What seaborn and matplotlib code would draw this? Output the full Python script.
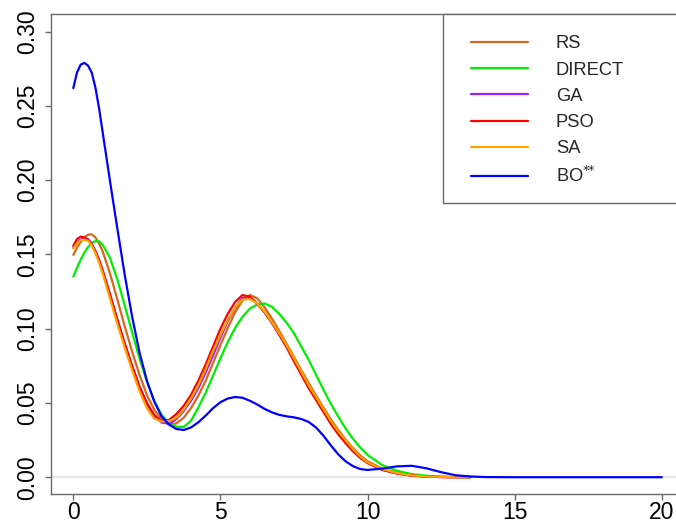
import matplotlib
matplotlib.use("Agg")
import matplotlib.pyplot as plt
import pandas as pd
import seaborn as sns
from matplotlib.patches import Rectangle

# ---------------- data ----------------
methods = ["RS", "DIRECT", "GA", "PSO", "SA", "BO"]
legend_labels = ["RS", "DIRECT", "GA", "PSO", "SA", r"BO$^{*\!\!*}$"]
colors = ["#D2691E", "#00EE00", "#A020F0", "#FF0000", "#FFA500", "#0000FF"]

x_main = [0, 0.125, 0.25, 0.375, 0.5, 0.625, 0.75, 0.875, 1.0, 1.25, 1.5, 1.75, 2.0, 2.25, 2.5, 2.75,
          3.0, 3.25, 3.5, 3.75, 4.0, 4.25, 4.5, 4.75, 5.0, 5.25, 5.5, 5.75,
          6.0, 6.25, 6.5, 6.75, 7.0, 7.25, 7.5, 7.75, 8.0, 8.25, 8.5, 8.75,
          9.0, 9.25, 9.5, 9.75, 10.0, 10.5, 11.0, 11.5, 12.0, 12.5, 13.0, 13.5]
x_bo = x_main + [14.0, 15.0, 20.0]

rs = [0.1497, 0.1545, 0.1585, 0.1615, 0.1633, 0.1636, 0.1615, 0.1575, 0.152, 0.137, 0.1195, 0.1015,
      0.0845, 0.069, 0.0555, 0.0455,
      0.039, 0.0357, 0.0362, 0.040, 0.0465, 0.055, 0.065, 0.077, 0.089, 0.1005, 0.111, 0.119,
      0.1227, 0.1205, 0.1145, 0.1068, 0.0985, 0.0898, 0.081, 0.072, 0.0635, 0.055, 0.047, 0.039,
      0.032, 0.0255, 0.0198, 0.0148, 0.0108, 0.0057, 0.0029, 0.0013, 0.0005, 0.0002, 0.0001, 0.0]
direct = [0.135, 0.141, 0.1465, 0.1512, 0.155, 0.1575, 0.159, 0.1588, 0.1565, 0.1475, 0.133, 0.1155,
          0.0975, 0.080, 0.0645, 0.0515,
          0.042, 0.0365, 0.034, 0.0338, 0.038, 0.047, 0.057, 0.0685, 0.080, 0.091, 0.1005, 0.108,
          0.1135, 0.1163, 0.117, 0.1148, 0.110, 0.104, 0.097, 0.088, 0.079, 0.069, 0.059, 0.0495,
          0.041, 0.033, 0.026, 0.020, 0.015, 0.0082, 0.0043, 0.0021, 0.001, 0.0004, 0.0001, 0.0]
ga = [0.155, 0.158, 0.160, 0.1608, 0.1603, 0.1575, 0.1525, 0.1465, 0.139, 0.1225, 0.1055, 0.0895,
      0.0745, 0.061, 0.0495, 0.041,
      0.0368, 0.036, 0.039, 0.0445, 0.0515, 0.060, 0.0705, 0.082, 0.094, 0.105, 0.114, 0.1208,
      0.1212, 0.1168, 0.111, 0.104, 0.096, 0.088, 0.0795, 0.0705, 0.0615, 0.053, 0.045, 0.0375,
      0.0305, 0.024, 0.0185, 0.0135, 0.0098, 0.005, 0.0025, 0.0011, 0.0004, 0.0001, 0.0, 0.0]
pso = [0.156, 0.1603, 0.162, 0.1615, 0.1598, 0.1565, 0.152, 0.146, 0.139, 0.123, 0.106, 0.090,
       0.075, 0.061, 0.050, 0.042,
       0.0378, 0.0385, 0.0425, 0.048, 0.0555, 0.065, 0.076, 0.088, 0.100, 0.110, 0.118, 0.1227,
       0.1215, 0.117, 0.111, 0.104, 0.096, 0.0875, 0.078, 0.069, 0.060, 0.052, 0.044, 0.036,
       0.029, 0.023, 0.0175, 0.013, 0.0095, 0.005, 0.0025, 0.0011, 0.0004, 0.0001, 0.0, 0.0]
sa = [0.154, 0.1575, 0.1595, 0.160, 0.1592, 0.1562, 0.151, 0.1445, 0.137, 0.120, 0.103, 0.087,
      0.072, 0.058, 0.0465, 0.0395,
      0.0375, 0.0378, 0.040, 0.0455, 0.053, 0.062, 0.073, 0.085, 0.096, 0.106, 0.1145, 0.1195,
      0.120, 0.117, 0.1115, 0.1045, 0.097, 0.089, 0.080, 0.071, 0.062, 0.054, 0.046, 0.038,
      0.031, 0.025, 0.019, 0.014, 0.010, 0.0055, 0.0028, 0.0012, 0.0005, 0.0002, 0.0, 0.0]
bo = [0.262, 0.2725, 0.2778, 0.279, 0.2772, 0.2725, 0.2625, 0.2485, 0.232, 0.199, 0.167, 0.136,
      0.108, 0.084, 0.065, 0.051,
      0.041, 0.0355, 0.0325, 0.0318, 0.0335, 0.037, 0.0415, 0.0465, 0.0505, 0.053, 0.054, 0.0535,
      0.0515, 0.049, 0.046, 0.0437, 0.042, 0.041, 0.0403, 0.0392, 0.0372, 0.0335, 0.028, 0.0215,
      0.0155, 0.0108, 0.0075, 0.0055, 0.0049, 0.0058, 0.0073, 0.0077, 0.006, 0.0034, 0.0013, 0.0005,
      0.0001, 0.0, 0.0]

x_ticks = [0, 5, 10, 15, 20]
y_ticks = [0.00, 0.05, 0.10, 0.15, 0.20, 0.25, 0.30]
y_tick_labels = ["0.00", "0.05", "0.10", "0.15", "0.20", "0.25", "0.30"]

series = {"RS": (x_main, rs), "DIRECT": (x_main, direct), "GA": (x_main, ga),
          "PSO": (x_main, pso), "SA": (x_main, sa), "BO": (x_bo, bo)}
frames = [pd.DataFrame({"x": xs, "density": ys, "method": m}) for m, (xs, ys) in series.items()]
df = pd.concat(frames, ignore_index=True)

# ---------------- figure ----------------
sns.set_theme(style="ticks")
plt.rcParams["font.family"] = ["Liberation Sans", "DejaVu Sans"]
plt.rcParams.update({
    "xtick.bottom": True, "ytick.left": True,
    "xtick.direction": "out", "ytick.direction": "out",
    "xtick.labelsize": 16.5, "ytick.labelsize": 16.5,
})

W, H = 676, 524
fig = plt.figure(figsize=(W / 100, H / 100), dpi=100, facecolor="white")
L, R, T, B = 51, 685, 14, 494.3
ax = fig.add_axes([L / W, (H - B) / H, (R - L) / W, (B - T) / H])
ax.set_facecolor("white")

ax.axhline(0, color="#e4e4e4", lw=1.3, zorder=0)
sns.lineplot(data=df, x="x", y="density", hue="method", hue_order=methods,
             palette=colors, estimator=None, sort=False, linewidth=1.6, ax=ax)

ax.set_xlim(-0.758, 20.79)
ax.set_ylim(-0.0115, 0.3119)
ax.set_xticks(x_ticks)
ax.set_xticklabels([str(t) for t in x_ticks])
ax.set_yticks(y_ticks)
ax.set_yticklabels(y_tick_labels)
ax.set_xlabel("")
ax.set_ylabel("")

for side, s in ax.spines.items():
    s.set_visible(True)
    s.set_color("#6a6a6a")
    s.set_linewidth(1.0)
ax.tick_params(axis="x", which="major", bottom=True, top=False, length=4.3, width=1.0,
               color="#6a6a6a", labelcolor="black", pad=0.5)
ax.tick_params(axis="y", which="major", left=True, right=False, length=4.3, width=1.0,
               color="#6a6a6a", labelcolor="black", pad=4.5)
plt.setp(ax.get_yticklabels(), rotation=90, va="center")

# legend frame
def ax_x(px):
    return (px - L) / (R - L)

def ax_y(py):
    return (B - py) / (B - T)

ax.add_patch(Rectangle((ax_x(443), ax_y(203)), ax_x(700) - ax_x(443), ax_y(14) - ax_y(203),
                       transform=ax.transAxes, facecolor="white", edgecolor="#6a6a6a",
                       lw=1.0, clip_on=False, zorder=5))
handles, _ = ax.get_legend_handles_labels()
leg = ax.legend(handles, legend_labels, loc="upper left",
                bbox_to_anchor=(ax_x(471), ax_y(35.5)), frameon=False,
                borderpad=0, borderaxespad=0, handlelength=3.1, handletextpad=1.53,
                labelspacing=0.5, fontsize=13.2)
leg.set_zorder(6)
for h in leg.get_lines():
    h.set_linewidth(1.6)

fig.savefig("out.png", dpi=100, facecolor="white")
